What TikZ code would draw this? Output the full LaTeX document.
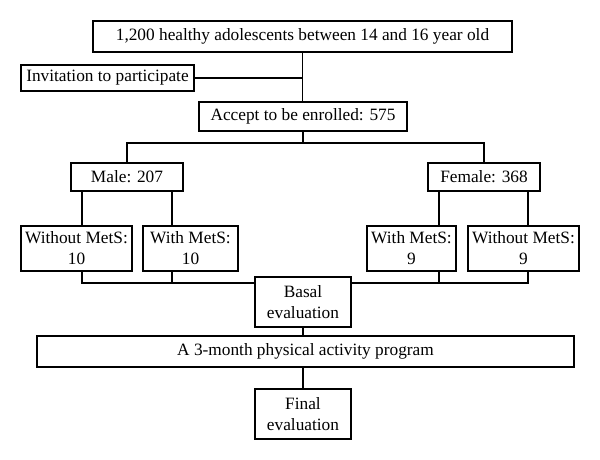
\documentclass[tikz,border=0pt]{standalone}
\usepackage{fontspec}
\setmainfont{Liberation Serif}
\begin{document}
\begin{tikzpicture}[x=1pt,y=-1pt,
  box/.style={draw, line width=1.2pt, inner sep=0pt, align=center, font=\fontsize{17.3}{21}\selectfont},
  conn/.style={line width=1.2pt}]
\useasboundingbox (0,0) rectangle (600,460);
\node[box, minimum width=419pt, minimum height=31pt] (top) at (302.5,36.5) {1,200 healthy adolescents between 14 and 16 year old};
\node[box, minimum width=173pt, minimum height=26pt] (inv) at (107.5,78) {Invitation to participate};
\node[box, minimum width=208pt, minimum height=29pt] (acc) at (303,116.5) {Accept to be enrolled: 575};
\node[box, minimum width=112pt, minimum height=28pt] (male) at (127,177) {Male: 207};
\node[box, minimum width=112pt, minimum height=28pt] (female) at (484,177) {Female: 368};
\node[box, minimum width=111pt, minimum height=45pt] (wom) at (76.5,248.5) {Without MetS:\\10};
\node[box, minimum width=95pt, minimum height=45pt] (wm) at (190.5,248.5) {With MetS:\\10};
\node[box, minimum width=89pt, minimum height=45pt] (fwm) at (411.5,248.5) {With MetS:\\9};
\node[box, minimum width=111pt, minimum height=45pt] (fwom) at (523.5,248.5) {Without MetS:\\9};
\node[box, minimum width=96pt, minimum height=50pt] (basal) at (303,302) {Basal\\evaluation};
\node[box, minimum width=537pt, minimum height=31pt] (prog) at (305.5,351.5) {A 3-month physical activity program};
\node[box, minimum width=96pt, minimum height=50pt] (final) at (303,414) {Final\\evaluation};
\coordinate (br) at (0,143);
\coordinate (bus) at (0,283);
\coordinate (mL) at (82,0);
\coordinate (mR) at (172,0);
\coordinate (fL) at (439,0);
\coordinate (fR) at (528,0);
\draw[conn] (top.south) -- (top.south |- acc.north);
\draw[conn] (inv.east) -- (inv.east -| top.south);
\draw[conn] (acc.south) -- (acc.south |- br);
\draw[conn] (male.north) -- (male.north |- br) -- (female.north |- br) -- (female.north);
\draw[conn] (male.south -| mL) -- (wom.north -| mL);
\draw[conn] (male.south -| mR) -- (wm.north -| mR);
\draw[conn] (female.south -| fL) -- (fwm.north -| fL);
\draw[conn] (female.south -| fR) -- (fwom.north -| fR);
\draw[conn] (wom.south -| mL) |- (bus -| basal.west);
\draw[conn] (wm.south -| mR) -- (bus -| mR);
\draw[conn] (fwom.south -| fR) |- (bus -| basal.east);
\draw[conn] (fwm.south -| fL) -- (bus -| fL);
\draw[conn] (basal.south) -- (basal.south |- prog.north);
\draw[conn] (prog.south -| final.north) -- (final.north);
\end{tikzpicture}
\end{document}
